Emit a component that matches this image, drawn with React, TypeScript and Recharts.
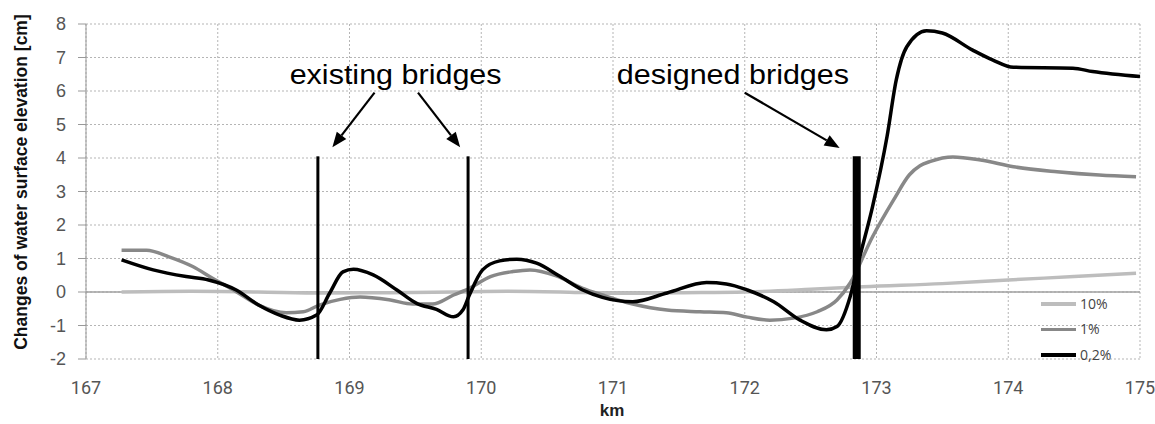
import React from 'react';
import { LineChart, Line, XAxis, YAxis, CartesianGrid, ReferenceLine, ReferenceDot, Legend } from 'recharts';

// chainage [km] and change of water surface [cm] per flood probability
const km10 = [167.27, 167.8, 168.3, 168.8, 169.3, 169.8, 170.2, 170.6, 171.0, 171.5, 172.0, 172.5, 172.9, 173.5, 174.0, 174.5, 174.97];
const dh10 = [0.0, 0.02, 0.0, -0.03, -0.02, 0.0, 0.02, 0.0, -0.04, -0.02, 0.0, 0.08, 0.16, 0.25, 0.36, 0.46, 0.56];

const km1 = [167.27, 167.46, 167.63, 167.81, 167.96, 168.14, 168.31, 168.52, 168.65, 168.77, 168.93, 169.08, 169.31, 169.48, 169.63, 169.79, 169.91, 170.07, 170.24, 170.37, 170.57, 170.77, 170.92, 171.15, 171.41, 171.66, 171.86, 172.02, 172.19, 172.37, 172.55, 172.7, 172.8, 172.97, 173.13, 173.25, 173.33, 173.41, 173.58, 173.79, 174.04, 174.37, 174.69, 174.97];
const dh1 = [1.25, 1.25, 1.05, 0.76, 0.41, 0.01, -0.39, -0.62, -0.59, -0.39, -0.22, -0.15, -0.24, -0.36, -0.36, -0.09, 0.11, 0.46, 0.61, 0.66, 0.48, 0.11, -0.09, -0.36, -0.54, -0.59, -0.62, -0.75, -0.84, -0.78, -0.59, -0.24, 0.27, 1.65, 2.75, 3.5, 3.77, 3.9, 4.03, 3.94, 3.74, 3.59, 3.49, 3.44];

const km02 = [167.27, 167.51, 167.76, 167.93, 168.14, 168.31, 168.47, 168.62, 168.75, 168.85, 168.95, 169.03, 169.18, 169.36, 169.51, 169.66, 169.79, 169.86, 169.91, 170.01, 170.14, 170.27, 170.42, 170.6, 170.77, 170.92, 171.15, 171.41, 171.71, 171.86, 172.02, 172.22, 172.42, 172.62, 172.7, 172.8, 172.87, 172.97, 173.08, 173.15, 173.23, 173.38, 173.5, 173.73, 173.88, 174.04, 174.49, 174.64, 175.0];
const dh02 = [0.96, 0.66, 0.46, 0.36, 0.06, -0.39, -0.69, -0.84, -0.69, -0.03, 0.6, 0.68, 0.51, 0.06, -0.34, -0.52, -0.74, -0.54, -0.09, 0.66, 0.93, 0.98, 0.86, 0.46, 0.06, -0.16, -0.29, -0.03, 0.28, 0.24, 0.06, -0.29, -0.84, -1.13, -1.03, -0.14, 1.0, 2.55, 4.64, 6.33, 7.32, 7.8, 7.73, 7.22, 6.93, 6.71, 6.68, 6.58, 6.43];

const xTicks = [167, 168, 169, 170, 171, 172, 173, 174, 175];
const yTicks = [-2, -1, 0, 1, 2, 3, 4, 5, 6, 7, 8];

// bridges: km position, and the height the marker reaches
const existingBridges = [168.76, 169.9];
const designedBridges = [172.85];
const bridgeTop = 4.05;

// annotation arrows [from km, from cm, to km, to cm]
const arrows = [
  [169.19, 5.95, 168.87, 4.32],
  [169.52, 5.95, 169.84, 4.32],
  [172.0, 5.95, 172.72, 4.3],
];
const captions = [
  { text: 'existing bridges', km: 169.35, cm: 6.2 },
  { text: 'designed bridges', km: 171.91, cm: 6.2 },
];

const zip = (xs: number[], ys: number[]) => xs.map((km, i) => ({ km, v: ys[i] }));

const series = [
  { name: '10%', data: zip(km10, dh10), color: '#bdbdbd' },
  { name: '1%', data: zip(km1, dh1), color: '#888888' },
  { name: '0,2%', data: zip(km02, dh02), color: '#000000' },
];

const Arrow = (p: any) => {
  const { x1, y1, x2, y2 } = p;
  const a = Math.atan2(y2 - y1, x2 - x1);
  const len = 15, w = 6;
  const bx = x2 - len * Math.cos(a), by = y2 - len * Math.sin(a);
  const px = -Math.sin(a) * w, py = Math.cos(a) * w;
  return (
    <g>
      <line x1={x1} y1={y1} x2={bx} y2={by} stroke="#000" strokeWidth={2.2} />
      <polygon points={`${x2},${y2} ${bx + px},${by + py} ${bx - px},${by - py}`} fill="#000" />
    </g>
  );
};

const LegendBox = () => (
  <div style={{ fontFamily: 'Open Sans, sans-serif', fontSize: 14, color: '#444', lineHeight: '18px' }}>
    {series.map((s) => (
      <div key={s.name} style={{ display: 'flex', alignItems: 'center', height: 25.5 }}>
        <div style={{ width: 35, height: 3.5, background: s.color, marginRight: 4 }} />
        <span>{s.name}</span>
      </div>
    ))}
  </div>
);

export default function App() {
  return (
    <div style={{ position: 'absolute', left: 0, top: 0, background: '#fff', width: 1155, height: 424, overflow: 'visible' }}>
      <LineChart
        width={1155}
        height={424}
        margin={{ top: 24, right: 15, bottom: 0, left: 0 }}
        style={{ overflow: 'visible' }}
      >
        <CartesianGrid strokeDasharray="2 2" stroke="#b5b5b5" />
        <XAxis
          type="number"
          dataKey="km"
          domain={[167, 175]}
          ticks={xTicks}
          allowDuplicatedCategory={false}
          axisLine={false}
          tickLine={false}
          tickSize={0}
          tickMargin={22}
          height={65}
          tick={{ fill: '#555', fontSize: 18, fontFamily: 'Roboto, sans-serif' }}
          label={{
            content: () => (
              <text x={612} y={416} textAnchor="middle" fontFamily="Liberation Sans, Arial, sans-serif" fontWeight="bold" fontSize={17} fill="#222">km</text>
            ),
          }}
        />
        <YAxis
          type="number"
          domain={[-2, 8]}
          ticks={yTicks}
          width={86}
          axisLine={{ stroke: '#999' }}
          tickLine={{ stroke: '#999' }}
          tickSize={8}
          tickMargin={12}
          tick={{ fill: '#555', fontSize: 18, fontFamily: 'Liberation Sans, Arial, sans-serif' }}
          label={{
            content: () => (
              <text transform="translate(27,182) rotate(-90)" textAnchor="middle" fontFamily="Liberation Sans, Arial, sans-serif" fontWeight="bold" fontSize={17.5} fill="#111">
                Changes of water surface elevation [cm]
              </text>
            ),
          }}
        />
        <ReferenceLine y={0} stroke="#a0a0a0" strokeWidth={1.5} />
        {series.map((s) => (
          <Line
            key={s.name}
            data={s.data}
            dataKey="v"
            name={s.name}
            type="monotone"
            stroke={s.color}
            strokeWidth={3.5}
            dot={false}
            activeDot={false}
            isAnimationActive={false}
          />
        ))}
        {existingBridges.map((b) => (
          <ReferenceLine key={b} segment={[{ x: b, y: -2 }, { x: b, y: bridgeTop }]} stroke="#000" strokeWidth={3} />
        ))}
        {designedBridges.map((b) => (
          <ReferenceLine key={b} segment={[{ x: b, y: -2 }, { x: b, y: bridgeTop }]} stroke="#000" strokeWidth={8} />
        ))}
        {arrows.map((a, i) => (
          <ReferenceLine key={'a' + i} segment={[{ x: a[0], y: a[1] }, { x: a[2], y: a[3] }]} shape={Arrow} />
        ))}
        {captions.map((c) => (
          <ReferenceDot
            key={c.text}
            x={c.km}
            y={c.cm}
            r={0}
            shape={(p: any) => (
              <text
                transform={`translate(${p.cx},${p.cy}) scale(1.13,1)`}
                textAnchor="middle"
                fontFamily="Liberation Sans, Arial, sans-serif"
                fontSize={27}
                fill="#000"
              >
                {c.text}
              </text>
            )}
          />
        ))}
        <Legend
          layout="vertical"
          align="center"
          verticalAlign="middle"
          content={<LegendBox />}
          wrapperStyle={{ position: 'absolute', left: 1041, top: 291, width: 100, height: 'auto', bottom: 'auto' }}
        />
      </LineChart>
    </div>
  );
}
